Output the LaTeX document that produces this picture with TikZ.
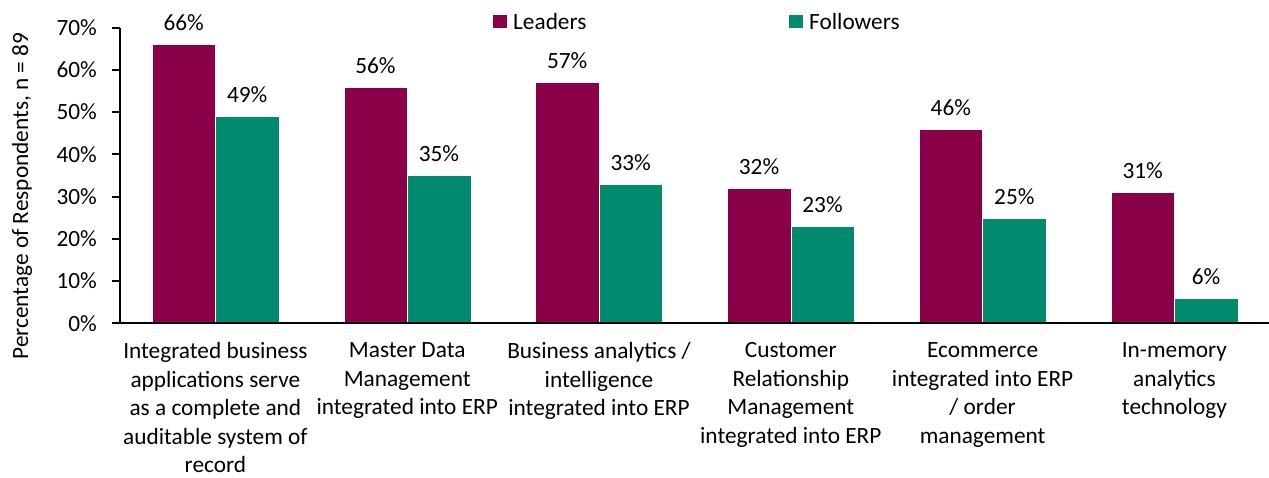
\documentclass[tikz,border=0pt]{standalone}
\usepackage{fontspec}
\setmainfont{Carlito}
\definecolor{leadc}{RGB}{138,0,72}
\definecolor{follc}{RGB}{0,138,110}
\begin{document}
\begin{tikzpicture}[x=1pt,y=-1pt,
  txt/.style={font=\fontsize{23.3}{28.5}\selectfont, inner sep=0pt},
  lbar/.style={fill=leadc, draw=white, line width=0.4pt},
  fbar/.style={fill=follc, draw=white, line width=0.4pt},
  axisline/.style={line width=2pt, black},
  catlab/.style={txt, align=center, anchor=north}]
\useasboundingbox (0,0) rectangle (1269,478);
\def\yz{323.3}
\def\ys{4.223}
\def\gs{191.8}
\def\bw{63.5}
% bars
\foreach \i/\l/\f in {0/66/49,1/56/35,2/57/33,3/32/23,4/46/25,5/31/6}{
  \pgfmathsetmacro{\c}{119.5+\gs*(\i+0.5)}
  \pgfmathsetmacro{\lt}{\yz-\ys*\l}
  \pgfmathsetmacro{\ft}{\yz-\ys*\f}
  \path[lbar] (\c-\bw,\yz) rectangle (\c,\lt);
  \path[fbar] (\c,\yz) rectangle (\c+\bw,\ft);
  \node[txt] (lv\i) at (\c-\bw/2,\lt-21.5) {\l\%};
  \node[txt] (fv\i) at (\c+\bw/2,\ft-21.5) {\f\%};
}
% axes
\coordinate (o) at (120,\yz);
\coordinate (top) at (120,\yz-70*\ys);
\coordinate (xe) at (1269,\yz);
\draw[axisline] (top) -- (o) -- (xe);
\foreach \v in {0,10,...,70}{
  \draw[axisline] (112,\yz-\v*\ys) -- (120,\yz-\v*\ys);
  \node[txt, anchor=east] (t\v) at (97,\yz-\v*\ys) {\v\%};
}
\node[txt, rotate=90] (ylab) at (22,196) {Percentage of Respondents, n = 89};
% category labels
\node[catlab] (c0) at (215.4,342.5) {Integrated business\\applications serve\\as a complete and\\auditable system of\\record};
\node[catlab] (c1) at (407.2,342.5) {Master Data\\Management\\integrated into ERP};
\node[catlab] (c2) at (599.0,342.5) {Business analytics /\\intelligence\\integrated into ERP};
\node[catlab] (c3) at (790.8,342.5) {Customer\\Relationship\\Management\\integrated into ERP};
\node[catlab] (c4) at (982.6,342.5) {Ecommerce\\integrated into ERP\\/ order\\management};
\node[catlab] (c5) at (1174.4,342.5) {In-memory\\analytics\\technology};
% legend
\path[fill=leadc] (493,15) rectangle (507,28);
\node[txt, anchor=west] (legL) at (513,21.5) {Leaders};
\path[fill=follc] (789,15) rectangle (803,28);
\node[txt, anchor=west] (legF) at (809,21.5) {Followers};
\end{tikzpicture}
\end{document}
